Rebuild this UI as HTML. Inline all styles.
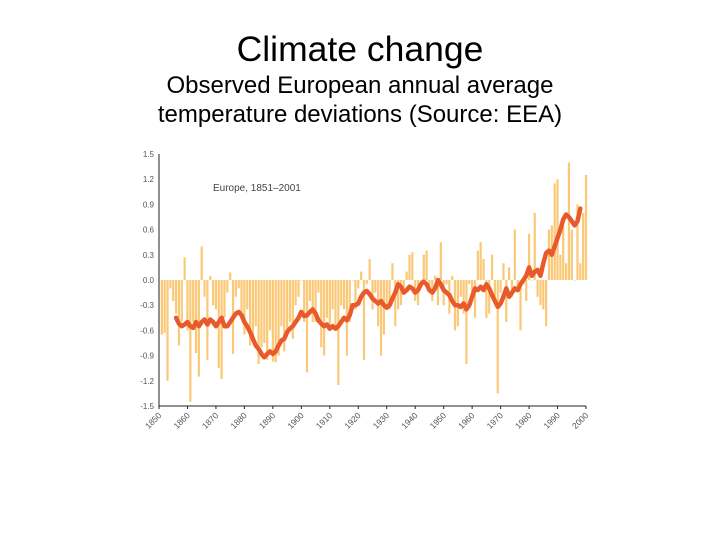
<!DOCTYPE html>
<html><head><meta charset="utf-8"><style>
body{margin:0;width:720px;height:540px;background:#fff;overflow:hidden;font-family:"Liberation Sans",sans-serif}
h1{position:absolute;top:29px;left:0;width:720px;margin:0;text-align:center;font-weight:normal;font-size:35.5px;color:#000}
.sub{position:absolute;top:71px;left:0;width:720px;text-align:center;font-size:24px;line-height:29px;color:#000}
svg{position:absolute;left:0;top:0}
</style></head><body>
<h1>Climate change</h1>
<div class="sub">Observed European annual average<br>temperature deviations (Source: EEA)</div>
<svg id="c" width="720" height="540"></svg>
<script>
const startYear=1851;
const barValues=[-0.65,-0.63,-1.2,-0.1,-0.25,-0.4,-0.78,-0.5,0.27,-0.6,
-1.45,-0.5,-0.87,-1.15,0.4,-0.2,-0.95,0.05,-0.3,-0.35,
-1.05,-1.18,-0.45,-0.15,0.09,-0.88,-0.2,-0.1,-0.45,-0.65,
-0.35,-0.78,-0.7,-0.55,-1.0,-0.8,-0.75,-0.95,-0.6,-0.97,
-0.98,-0.9,-0.55,-0.85,-0.6,-0.5,-0.7,-0.3,-0.2,0.0,
-0.5,-1.1,-0.25,-0.5,-0.5,-0.15,-0.8,-0.9,-0.45,-0.55,
-0.35,-0.6,-1.25,-0.3,-0.35,-0.9,-0.5,0.0,-0.35,-0.1,
0.1,-0.95,-0.05,0.25,-0.35,-0.15,-0.55,-0.9,-0.65,-0.35,
-0.35,0.2,-0.55,-0.35,-0.3,-0.1,0.1,0.3,0.33,-0.25,
-0.3,-0.1,0.3,0.35,-0.1,-0.25,0.05,-0.3,0.45,-0.3,
-0.05,-0.4,0.05,-0.6,-0.55,-0.2,-0.4,-1.0,-0.05,-0.15,
-0.45,0.35,0.45,0.25,-0.45,-0.4,0.3,-0.2,-1.35,-0.15,
0.2,-0.5,0.15,-0.2,0.6,-0.15,-0.6,-0.05,-0.25,0.55,
0.0,0.8,-0.2,-0.3,-0.35,-0.55,0.6,0.65,1.15,1.2,
0.3,0.65,0.2,1.4,0.6,0.0,0.9,0.2,0.8,1.25];
const lineStart=1856;
const lineValues=[-0.45,-0.52,-0.55,-0.53,-0.5,-0.55,-0.57,-0.5,-0.55,-0.5,-0.47,-0.53,-0.47,-0.5,-0.55,-0.5,-0.45,-0.55,-0.55,-0.5,-0.45,-0.4,-0.38,-0.42,-0.5,-0.55,-0.62,-0.7,-0.78,-0.82,-0.88,-0.92,-0.88,-0.85,-0.88,-0.85,-0.78,-0.72,-0.7,-0.62,-0.58,-0.55,-0.5,-0.45,-0.38,-0.43,-0.42,-0.38,-0.35,-0.4,-0.48,-0.52,-0.55,-0.53,-0.58,-0.55,-0.58,-0.55,-0.5,-0.45,-0.48,-0.42,-0.3,-0.3,-0.28,-0.2,-0.15,-0.13,-0.17,-0.22,-0.25,-0.28,-0.25,-0.3,-0.33,-0.3,-0.22,-0.15,-0.05,-0.08,-0.15,-0.12,-0.08,-0.1,-0.15,-0.12,-0.05,-0.02,-0.05,-0.12,-0.15,-0.1,0.0,-0.05,-0.12,-0.15,-0.18,-0.25,-0.3,-0.3,-0.32,-0.28,-0.35,-0.3,-0.2,-0.1,-0.12,-0.08,-0.12,-0.05,-0.1,-0.18,-0.25,-0.32,-0.28,-0.2,-0.1,-0.2,-0.15,-0.1,-0.12,-0.05,0.0,0.05,0.15,0.05,0.1,0.12,0.05,0.2,0.32,0.35,0.3,0.4,0.5,0.6,0.72,0.78,0.75,0.7,0.65,0.7,0.85];
const yTicks=[1.5,1.2,0.9,0.6,0.3,0.0,-0.3,-0.6,-0.9,-1.2,-1.5];
const yTickLabels=["1.5","1.2","0.9","0.6","0.3","0.0","-0.3","-0.6","-0.9","-1.2","-1.5"];
const xTicks=[1850,1860,1870,1880,1890,1900,1910,1920,1930,1940,1950,1960,1970,1980,1990,2000];

const NS="http://www.w3.org/2000/svg";
const svg=document.getElementById('c');
const X0=159,X1=586,Y0=406,Y1=154;
const x=yr=>X0+(yr-1850)*(X1-X0)/150;
const y=v=>Y0-(v+1.5)*(Y0-Y1)/3;
function mk(t,a){const e=document.createElementNS(NS,t);for(const k in a)e.setAttribute(k,a[k]);svg.appendChild(e);return e;}
barValues.forEach((v,i)=>{
  const yr=startYear+i;const y0=y(0),yv=y(v);
  const r=mk('rect',{x:x(yr)-1.1,width:2.2,y:Math.min(y0,yv),height:Math.max(0.5,Math.abs(yv-y0)),fill:'#fbc877'});
  
  
});
const pts=lineValues.map((v,i)=>x(lineStart+i).toFixed(1)+','+y(v).toFixed(1)).join(' ');
const pl=mk('polyline',{points:pts,fill:'none',stroke:'#e85a2c','stroke-width':4.5,'stroke-linejoin':'round','stroke-linecap':'round'});


const ax=mk('path',{d:`M${X0} ${Y1}V${Y0}H${X1}`,stroke:'#222',fill:'none','stroke-width':1});


yTicks.forEach((v,i)=>{
  const t=mk('text',{x:X0-5,y:y(v)+3,'text-anchor':'end','font-size':8,fill:'#555','font-family':'Liberation Sans, sans-serif'});
  t.textContent=yTickLabels[i];
  
  
});
xTicks.forEach(yr=>{
  mk('line',{x1:x(yr),x2:x(yr),y1:Y0,y2:Y0+3,stroke:'#222'});
  const t=mk('text',{x:0,y:0,'text-anchor':'end','font-size':8.5,fill:'#555','font-family':'Liberation Sans, sans-serif',transform:`translate(${x(yr)+3},${Y0+10}) rotate(-45)`});
  t.textContent=yr;
  
  
});
const lab=mk('text',{x:213,y:191,'font-size':10,fill:'#444','font-family':'Liberation Sans, sans-serif'});
lab.textContent='Europe, 1851–2001';


</script>
</body></html>
